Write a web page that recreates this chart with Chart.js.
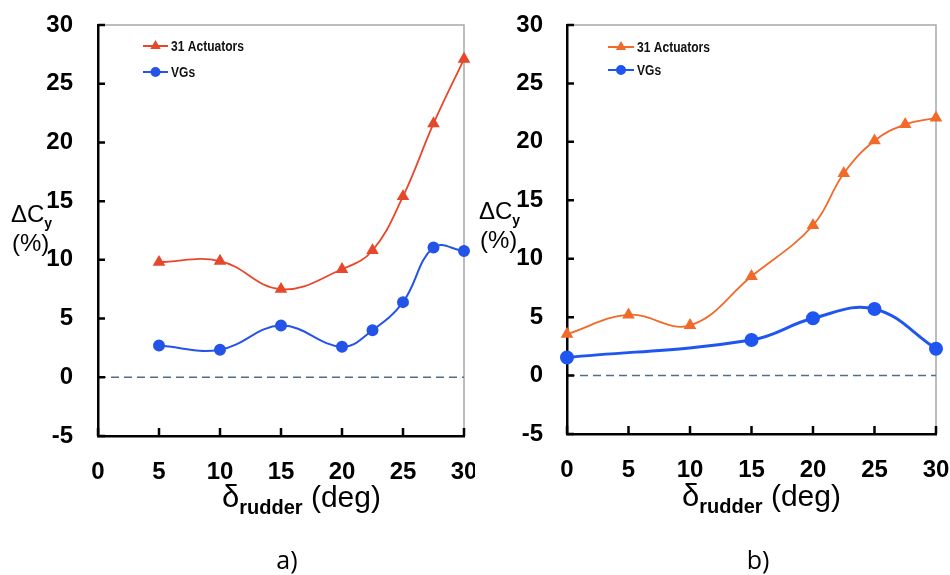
<!DOCTYPE html>
<html>
<head>
<meta charset="utf-8">
<script src="https://cdn.jsdelivr.net/npm/chart.js@4.4.0/dist/chart.umd.min.js"></script>
<style>
  html, body { margin: 0; padding: 0; background: #fff; }
  #wrap { position: relative; width: 950px; height: 575px; }
  canvas { position: absolute; top: 0; }
  #chartA { left: 0; }
  #chartB { left: 475px; }
</style>
</head>
<body>
<div id="wrap">
  <canvas id="chartA" width="475" height="575"></canvas>
  <canvas id="chartB" width="475" height="575"></canvas>
</div>
<script>
// panel a) - rudder deflection sweep
const anglesA = [5, 10, 15, 20, 22.5, 25, 27.5, 30];
const actuatorsA = [9.8, 9.9, 7.5, 9.2, 10.8, 15.4, 21.6, 27.1];
const vgsA = [2.7, 2.35, 4.4, 2.6, 4.0, 6.4, 11.05, 10.75];

// panel b)
const anglesB = [0, 5, 10, 15, 20, 22.5, 25, 27.5, 30];
const actuatorsB = [3.55, 5.2, 4.3, 8.5, 12.85, 17.3, 20.1, 21.5, 22.05];
const anglesBVg = [0, 15, 20, 25, 30];
const vgsB = [1.55, 3.05, 4.9, 5.7, 2.3];

const xTicks = [0, 5, 10, 15, 20, 25, 30];
const yTicks = [-5, 0, 5, 10, 15, 20, 25, 30];

const FONT = '"Liberation Sans", Arial, sans-serif';

const pts = (xs, ys) => xs.map((x, i) => ({ x: x, y: ys[i] }));

function drawRuns(ctx, x, y, runs) {
  runs.forEach(r => {
    ctx.font = r.font;
    ctx.fillText(r.text, x, y + (r.dy || 0));
    x += ctx.measureText(r.text).width;
  });
}

const decor = {
  id: 'decor',
  beforeDatasetsDraw(chart) {
    const { ctx, chartArea: a } = chart;
    ctx.save();
    ctx.strokeStyle = '#a8a8a8';
    ctx.lineWidth = 1.5;
    ctx.beginPath();
    ctx.moveTo(a.left, a.top);
    ctx.lineTo(a.right, a.top);
    ctx.lineTo(a.right, a.bottom);
    ctx.stroke();
    ctx.restore();
  },
  afterDraw(chart, args, opts) {
    const { ctx, chartArea: a, scales: { x, y } } = chart;
    ctx.save();

    // inward tick marks
    ctx.strokeStyle = '#000';
    ctx.lineWidth = 2.5;
    ctx.beginPath();
    xTicks.forEach(v => {
      const px = x.getPixelForValue(v);
      ctx.moveTo(px, a.bottom);
      ctx.lineTo(px, a.bottom - 8);
    });
    yTicks.forEach(v => {
      const py = y.getPixelForValue(v);
      ctx.moveTo(a.left, py);
      ctx.lineTo(a.left + 7, py);
    });
    ctx.stroke();

    // legend
    const lg = opts.legend;
    chart.data.datasets.filter(d => d.label).forEach((d, i) => {
      const ly = lg.y + i * lg.gap;
      ctx.strokeStyle = d.borderColor;
      ctx.lineWidth = 2;
      ctx.beginPath();
      ctx.moveTo(lg.x, ly);
      ctx.lineTo(lg.x + lg.len, ly);
      ctx.stroke();
      ctx.fillStyle = d.pointBackgroundColor;
      ctx.strokeStyle = d.pointBorderColor;
      Chart.helpers.drawPoint(ctx, { pointStyle: d.pointStyle, radius: 4, rotation: 0, borderWidth: 1 }, lg.x + lg.len / 2, ly);
      ctx.save();
      ctx.translate(lg.x + lg.len + 3, ly);
      ctx.scale(0.86, 1);
      ctx.fillStyle = '#111';
      ctx.font = 'bold 14px ' + FONT;
      ctx.textBaseline = 'middle';
      ctx.fillText(d.label, 0, 1);
      ctx.restore();
    });

    ctx.fillStyle = '#000';
    ctx.textBaseline = 'alphabetic';
    ctx.textAlign = 'left';

    // y axis title
    const yt = opts.yTitle;
    drawRuns(ctx, yt.x, yt.y, [
      { text: 'ΔC', font: '24px ' + FONT },
      { text: 'y', font: 'bold 14px ' + FONT, dy: 6 }
    ]);
    ctx.font = '24px ' + FONT;
    ctx.fillText('(%)', yt.x + 1, yt.y + 29);

    // x axis title
    const xt = opts.xTitle;
    drawRuns(ctx, xt.x, xt.y, [
      { text: 'δ', font: '31px ' + FONT },
      { text: 'rudder', font: 'bold 20px ' + FONT, dy: 7 },
      { text: ' (deg)', font: '30px ' + FONT }
    ]);

    // panel caption
    ctx.textAlign = 'center';
    ctx.font = '25px "Open Sans", ' + FONT;
    ctx.fillText(opts.caption.text, opts.caption.x, opts.caption.y);
    ctx.restore();
  }
};

function series(label, data, color, style, width, radius) {
  return {
    label: label,
    data: data,
    borderColor: color,
    backgroundColor: color,
    pointBackgroundColor: color,
    pointBorderColor: color,
    pointStyle: style,
    pointRadius: radius,
    pointHoverRadius: radius,
    borderWidth: width,
    tension: 0.4,
    clip: false
  };
}

function zeroLine() {
  return {
    data: pts([0, 30], [0, 0]),
    borderColor: '#4f6d8c',
    borderWidth: 1.5,
    borderDash: [8, 5],
    pointRadius: 0,
    tension: 0
  };
}

function makeChart(id, datasets, frame, decorOpts) {
  const tickFont = { family: FONT, size: 24, weight: 'bold' };
  return new Chart(document.getElementById(id), {
    type: 'line',
    data: { datasets: [zeroLine()].concat(datasets) },
    options: {
      responsive: false,
      animation: false,
      events: [],
      layout: { padding: { top: 25, right: frame.right, left: 0, bottom: 0 } },
      plugins: {
        legend: { display: false },
        tooltip: { enabled: false },
        decor: decorOpts
      },
      scales: {
        x: {
          type: 'linear',
          min: 0,
          max: 30,
          afterBuildTicks: s => { s.ticks = xTicks.map(v => ({ value: v })); },
          afterFit: s => { s.height = frame.xHeight; s.paddingLeft = 0; s.paddingRight = 0; },
          ticks: { font: tickFont, color: '#000', padding: 22, maxRotation: 0 },
          grid: { display: false, drawTicks: false },
          border: { color: '#000', width: 2.5 }
        },
        y: {
          min: -5,
          max: 30,
          afterBuildTicks: s => { s.ticks = yTicks.map(v => ({ value: v })); },
          afterFit: s => { s.width = frame.yWidth; s.paddingTop = 0; s.paddingBottom = 0; },
          ticks: { font: tickFont, color: '#000', padding: frame.tickPad },
          grid: { display: false, drawTicks: false },
          border: { color: '#000', width: 2.5 }
        }
      }
    },
    plugins: [decor]
  });
}

makeChart('chartA', [
  series('31 Actuators', pts(anglesA, actuatorsA), '#e8472b', 'triangle', 1.8, 5.5),
  series('VGs', pts(anglesA, vgsA), '#2453e8', 'circle', 2, 5)
], { right: 11, xHeight: 139, yWidth: 98, tickPad: 25 }, {
  legend: { x: 143, y: 46, gap: 26, len: 25 },
  yTitle: { x: 11, y: 222 },
  xTitle: { x: 222, y: 507 },
  caption: { text: 'a)', x: 287, y: 569 }
});

makeChart('chartB', [
  series('31 Actuators', pts(anglesB, actuatorsB), '#f26a2a', 'triangle', 1.8, 5.5),
  series('VGs', pts(anglesBVg, vgsB), '#1f55f0', 'circle', 3, 5.5)
], { right: 14, xHeight: 141, yWidth: 92, tickPad: 24 }, {
  legend: { x: 133, y: 47, gap: 23, len: 26 },
  yTitle: { x: 4, y: 219 },
  xTitle: { x: 207, y: 506 },
  caption: { text: 'b)', x: 283, y: 569 }
});
</script>
</body>
</html>
